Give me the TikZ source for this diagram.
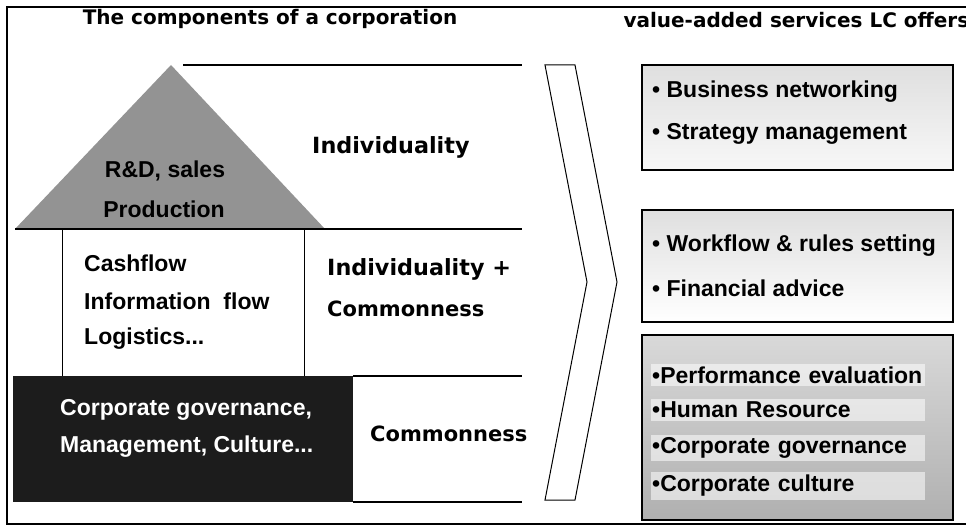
\documentclass[tikz,border=0pt]{standalone}
\usepackage{fontspec}
\setmainfont{Liberation Sans}
\newfontfamily\widefont{DejaVu Sans}
\usepackage{tikz}

\definecolor{pyrgray}{HTML}{939393}
\definecolor{basedark}{HTML}{1C1C1C}

\begin{document}
\begin{tikzpicture}[x=1pt,y=-1pt,
		txt/.style={font=\fontsize{23}{23}\selectfont\bfseries, inner sep=0pt, anchor=west},
		wide/.style={font=\widefont\fontsize{22.3}{22.3}\selectfont\bfseries, inner sep=0pt, anchor=west},
		narrow/.style={wide, font=\widefont\fontsize{21}{21}\selectfont\bfseries},
		offer/.style={draw, line width=1.2pt},
		band/.style={txt, fill=white, fill opacity=0.55, text opacity=1, inner xsep=1pt, inner ysep=3pt, text width=272pt, align=left}]
				\useasboundingbox (0,0) rectangle (966,527);
				\clip (0,0) rectangle (966,527);
				\draw[line width=1.2pt] (7,7) rectangle (985,524);
				
				% headings
				\node[font=\widefont\fontsize{20}{20}\selectfont\bfseries] (comp) at (270,19) {The components of a corporation};
				\node[font=\widefont\fontsize{20}{20}\selectfont\bfseries, anchor=west] (serv) at (620,20) {value-added services LC offers};
				
				% the three layers
				\fill[pyrgray] (171,65) -- (15,229) -- (325,229) -- cycle;
				\draw[fill=white, line width=1pt] (62,229) rectangle (304,376);
				\fill[basedark] (13,376) rectangle (353,502);
				
				\foreach \x/\y/\z in
				{top/183/65, mid/15/229, low/353/376, bot/353/502}{
					\coordinate(\x L) at (\y,\z);
					\coordinate(\x R) at (522,\z);
					\draw[line width=1.2pt] (\x L)--(\x R);
				}
				
				% top layer
				\node[txt, anchor=center] (rnd) at (165,171) {R\&D, sales};
				\node[txt, anchor=center] (prod) at (164,209) {Production};
				\node[wide] (indiv) at (312,147) {Individuality};
				
				% middle layer
				\node[txt] (cash) at (84,263) {Cashflow};
				\node[txt] (info) at (84,301) {Information~~flow};
				\node[txt] (logi) at (84,339) {Logistics...};
				\node[wide] (indivplus) at (327,269) {Individuality +};
				\node[narrow] (common) at (327,309) {Commonness};
				
				% base layer
				\node[txt, text=white] (gov) at (60,410) {Corporate governance,};
				\node[txt, text=white] (mgmt) at (60,447) {Management, Culture...};
				\node[narrow] (commonness) at (370,434) {Commonness};
				
				% chevron
				\draw[line width=1pt] (545,65) -- (575,65) -- (617,282) -- (575,500)
					-- (545,500) -- (587,282) -- cycle;
				
				% service boxes
				\draw[offer, top color=gray!25, bottom color=gray!6] (642,65) rectangle (953,170);
				\draw[offer, top color=gray!25, bottom color=white] (642,210) rectangle (953,322);
				\draw[offer, top color=gray!30, bottom color=gray!62] (642,335) rectangle (953,520);
				
				\node[txt] (bn) at (652,92) {• Business networking};
				\node[txt] (sm) at (652,134) {• Strategy management};
				\node[txt] (wf) at (652,246) {• Workflow \& rules setting};
				\node[txt] (fa) at (652,288) {• Financial advice};
				
				\foreach \x/\y/\z in
				{pe/375/Performance evaluation, hr/410/Human Resource,
					cg/448/Corporate governance, cc/486/Corporate culture}{
					\node[band] (\x) at (651,\y) {•\z};
				}
			\end{tikzpicture}
\end{document}
